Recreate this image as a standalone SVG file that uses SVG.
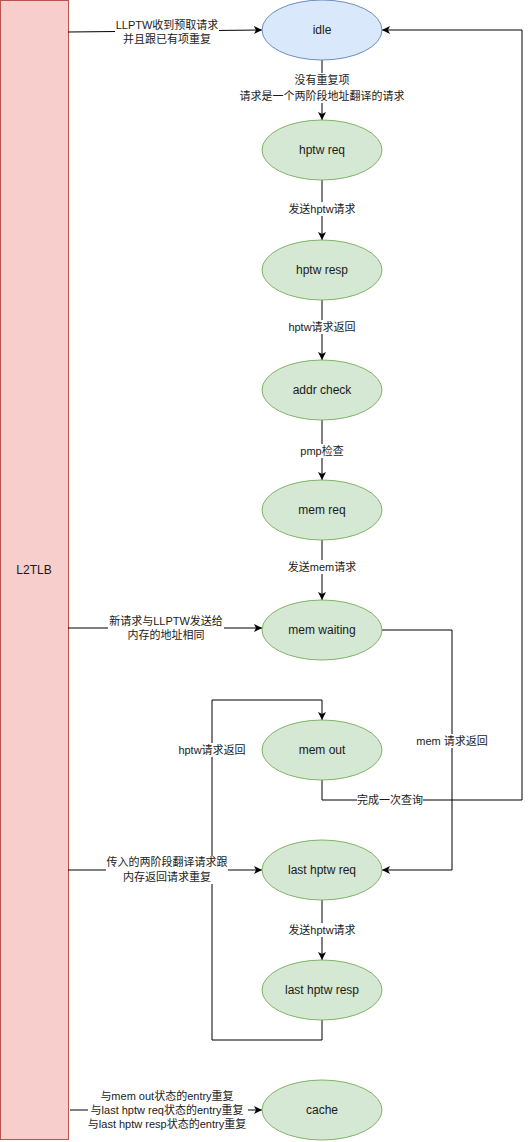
<svg xmlns="http://www.w3.org/2000/svg" width="532" height="1142" viewBox="0 0 532 1142">
<style>
.blue{fill:#dae8fc;stroke:#6c8ebf;stroke-width:1}
.green{fill:#d5e8d4;stroke:#82b366;stroke-width:1}
.nt{font-family:"Liberation Sans","Noto Sans CJK SC",sans-serif;font-size:12px;fill:#1a1a1a;text-anchor:middle;dominant-baseline:central}
.lt{font-family:"Liberation Sans","Noto Sans CJK SC",sans-serif;font-size:11px;fill:#1a1a1a;text-anchor:middle;dominant-baseline:central}
.ln{fill:none;stroke:#000;stroke-width:1}
.bg{fill:#fff}
</style>
<defs>
<marker id="arr" markerUnits="userSpaceOnUse" markerWidth="10" markerHeight="10" refX="8" refY="4" orient="auto">
<path d="M0,0 L8,4 L0,8 L2,4 z" fill="#000"/>
</marker>
</defs>
<rect width="532" height="1142" fill="#fff"/>
<g id="L2TLB">
<rect x="0.5" y="0.5" width="68" height="1139" fill="#f8cecc" stroke="#b85450"/>
<text class="nt" x="34" y="570">L2TLB</text>
</g>
<g id="connectors">
<path class="ln" d="M68,32 L262,30" marker-end="url(#arr)"/>
<path class="ln" d="M322,60 L322,120" marker-end="url(#arr)"/>
<path class="ln" d="M322,180 L322,240" marker-end="url(#arr)"/>
<path class="ln" d="M322,300 L322,360" marker-end="url(#arr)"/>
<path class="ln" d="M322,420 L322,480" marker-end="url(#arr)"/>
<path class="ln" d="M322,540 L322,600" marker-end="url(#arr)"/>
<path class="ln" d="M68,628 L262,628" marker-end="url(#arr)"/>
<path class="ln" d="M382,630 L452,630 L452,870 L382,870" marker-end="url(#arr)"/>
<path class="ln" d="M322,780 L322,800 L522,800 L522,30 L382,30" marker-end="url(#arr)"/>
<path class="ln" d="M322,1020 L322,1040 L212,1040 L212,700 L322,700 L322,720" marker-end="url(#arr)"/>
<path class="ln" d="M68,870 L262,870" marker-end="url(#arr)"/>
<path class="ln" d="M322,900 L322,960" marker-end="url(#arr)"/>
<path class="ln" d="M70,1110 L262,1110" marker-end="url(#arr)"/>
<g id="edge-labels">
<rect class="bg" x="115" y="18" width="104" height="28"/>
<text class="lt" x="167" y="25">LLPTW收到预取请求</text>
<text class="lt" x="167" y="39">并且跟已有项重复</text>
<rect class="bg" x="240" y="73" width="166" height="30"/>
<text class="lt" x="322" y="80">没有重复项</text>
<text class="lt" x="322" y="96">请求是一个两阶段地址翻译的请求</text>
<rect class="bg" x="288" y="202" width="68" height="14"/>
<text class="lt" x="322" y="209">发送hptw请求</text>
<rect class="bg" x="289" y="320" width="66" height="14"/>
<text class="lt" x="322" y="327">hptw请求返回</text>
<rect class="bg" x="300" y="444" width="44" height="14"/>
<text class="lt" x="322" y="451">pmp检查</text>
<rect class="bg" x="288" y="560" width="68" height="14"/>
<text class="lt" x="322" y="567">发送mem请求</text>
<rect class="bg" x="108" y="614" width="116" height="28"/>
<text class="lt" x="166" y="621">新请求与LLPTW发送给</text>
<text class="lt" x="166" y="635">内存的地址相同</text>
<rect class="bg" x="416" y="734" width="72" height="14"/>
<text class="lt" x="452" y="741">mem 请求返回</text>
<rect class="bg" x="357" y="793" width="66" height="14"/>
<text class="lt" x="390" y="800">完成一次查询</text>
<rect class="bg" x="179" y="743" width="66" height="14"/>
<text class="lt" x="212" y="750">hptw请求返回</text>
<rect class="bg" x="106" y="856" width="122" height="28"/>
<text class="lt" x="167" y="862">传入的两阶段翻译请求跟</text>
<text class="lt" x="167" y="877">内存返回请求重复</text>
<rect class="bg" x="288" y="923" width="68" height="14"/>
<text class="lt" x="322" y="930">发送hptw请求</text>
<rect class="bg" x="88" y="1089" width="160" height="42"/>
<text class="lt" x="167" y="1096">与mem out状态的entry重复</text>
<text class="lt" x="167" y="1110">与last hptw req状态的entry重复</text>
<text class="lt" x="167" y="1124">与last hptw resp状态的entry重复</text>
</g>
</g>
<g id="idle"><ellipse class="blue" cx="322" cy="30" rx="60" ry="30"/><text class="nt" x="322" y="30">idle</text></g>
<g id="hptw-req"><ellipse class="green" cx="322" cy="150" rx="60" ry="30"/><text class="nt" x="322" y="150">hptw req</text></g>
<g id="hptw-resp"><ellipse class="green" cx="322" cy="270" rx="60" ry="30"/><text class="nt" x="322" y="270">hptw resp</text></g>
<g id="addr-check"><ellipse class="green" cx="322" cy="390" rx="60" ry="30"/><text class="nt" x="322" y="390">addr check</text></g>
<g id="mem-req"><ellipse class="green" cx="322" cy="510" rx="60" ry="30"/><text class="nt" x="322" y="510">mem req</text></g>
<g id="mem-waiting"><ellipse class="green" cx="322" cy="630" rx="60" ry="30"/><text class="nt" x="322" y="630">mem waiting</text></g>
<g id="mem-out"><ellipse class="green" cx="322" cy="750" rx="60" ry="30"/><text class="nt" x="322" y="750">mem out</text></g>
<g id="last-hptw-req"><ellipse class="green" cx="322" cy="870" rx="60" ry="30"/><text class="nt" x="322" y="870">last hptw req</text></g>
<g id="last-hptw-resp"><ellipse class="green" cx="322" cy="990" rx="60" ry="30"/><text class="nt" x="322" y="990">last hptw resp</text></g>
<g id="cache"><ellipse class="green" cx="322" cy="1110" rx="60" ry="30"/><text class="nt" x="322" y="1110">cache</text></g>
</svg>
